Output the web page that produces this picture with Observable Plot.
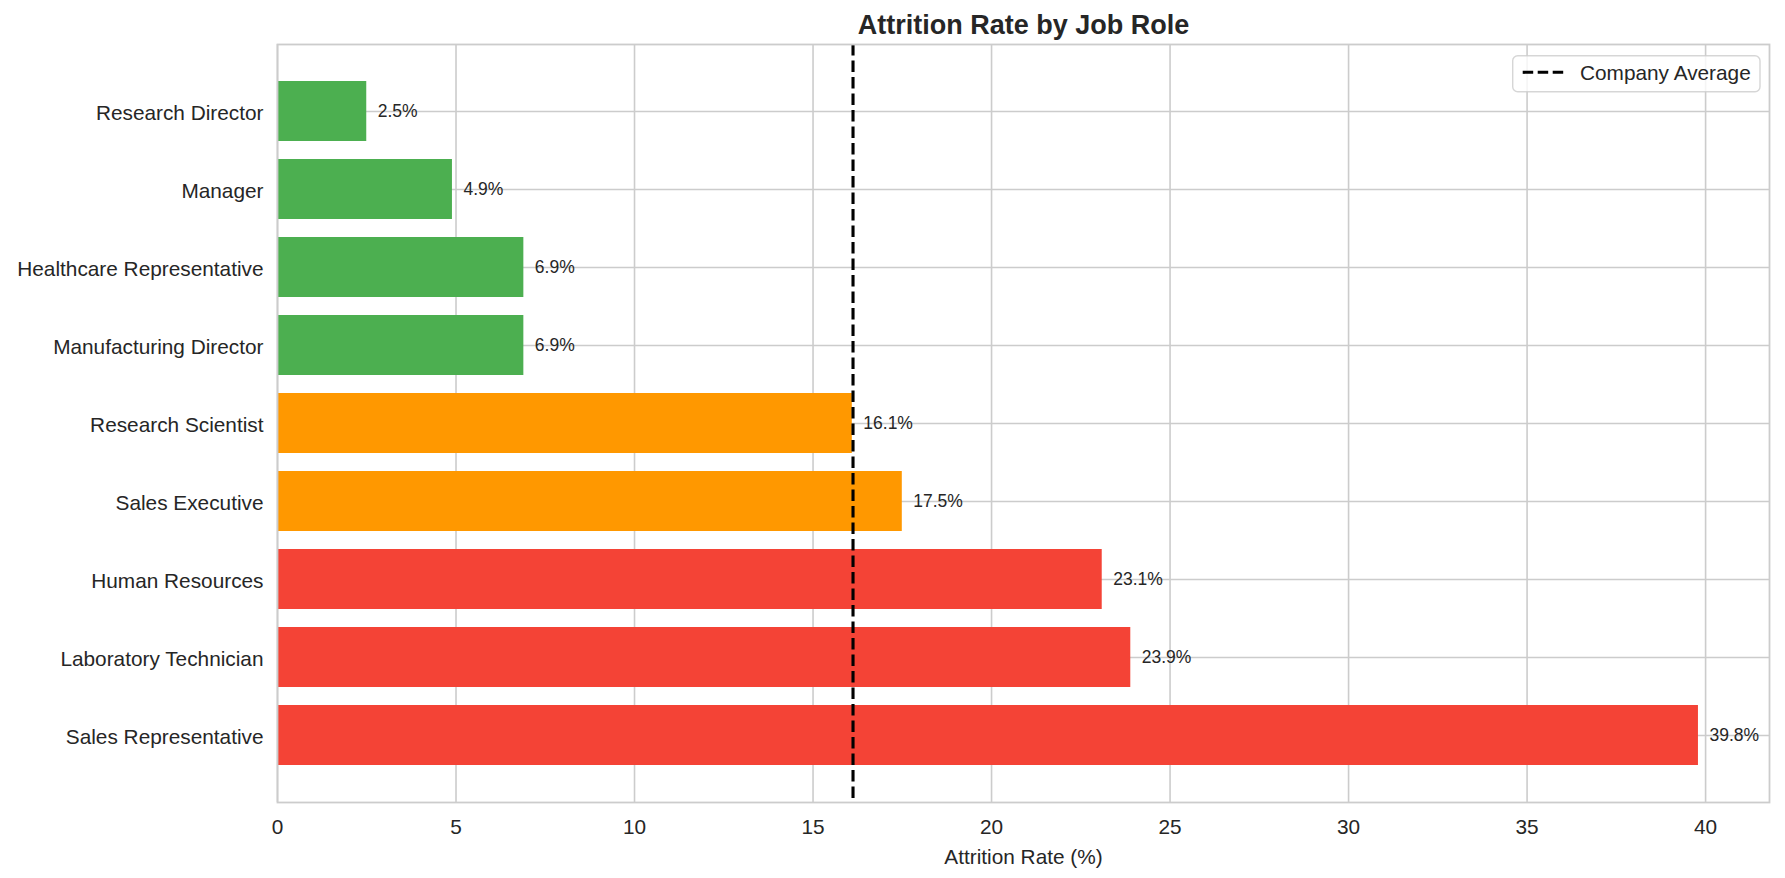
<!DOCTYPE html>
<html>
<head>
<meta charset="utf-8">
<script src="https://cdn.jsdelivr.net/npm/d3@7"></script>
<script src="https://cdn.jsdelivr.net/npm/@observablehq/plot@0.6"></script>
<style>
  html, body { margin: 0; padding: 0; background: #ffffff; }
  #chart { position: relative; width: 1785px; height: 878px; }
  #legend { position: absolute; left: 1511px; top: 54px; }
</style>
</head>
<body>
<div id="chart"></div>
<script>
// Attrition rate (%) per job role, listed top to bottom
const roles = [
  "Research Director",
  "Manager",
  "Healthcare Representative",
  "Manufacturing Director",
  "Research Scientist",
  "Sales Executive",
  "Human Resources",
  "Laboratory Technician",
  "Sales Representative"
];
const rates = [2.5, 4.9, 6.9, 6.9, 16.1, 17.5, 23.1, 23.9, 39.8];

// Overall company attrition rate (%)
const companyAverage = 16.12;

// Axis ticks and risk bands
const xTicks = [0, 5, 10, 15, 20, 25, 30, 35, 40];
const riskThresholds = [10, 20];
const riskColors = ["#4CAF50", "#FF9800", "#F44336"];

const titleText = "Attrition Rate by Job Role";
const xLabelText = "Attrition Rate (%)";
const legendText = "Company Average";

const data = roles.map((role, i) => ({role, rate: rates[i]}));
const fmt = d3.format(".1f");
const ink = "#262626";
const font = "'Liberation Sans', Arial, sans-serif";

const chart = Plot.plot({
  width: 1785,
  height: 878,
  marginLeft: 277,
  marginRight: 16,
  marginTop: 44,
  marginBottom: 76,
  style: {fontFamily: font, fontSize: "20.8px", color: ink, background: "#ffffff"},
  x: {domain: [0, d3.max(rates) * 1.05]},
  y: {type: "band", domain: roles, paddingInner: 0.235, paddingOuter: 0.46},
  color: {type: "threshold", domain: riskThresholds, range: riskColors},
  marks: [
    Plot.gridX(xTicks, {stroke: "#cccccc", strokeOpacity: 1, strokeWidth: 1.6}),
    Plot.gridY({stroke: "#cccccc", strokeOpacity: 1, strokeWidth: 1.6}),
    Plot.barX(data, {x: "rate", y: "role", fill: "rate"}),
    Plot.text(data, {
      x: "rate", y: "role",
      text: d => fmt(d.rate) + "%",
      textAnchor: "start", dx: 11,
      fontSize: 17.5, fill: ink
    }),
    Plot.ruleX([companyAverage], {stroke: "#000000", strokeWidth: 3.1, strokeDasharray: "11.5,5"}),
    Plot.frame({stroke: "#cccccc", strokeWidth: 1.8}),
    Plot.axisX(xTicks, {tickSize: 0, tickPadding: 16.5, label: null, fontSize: 20.8, fill: ink}),
    Plot.axisY({tickSize: 0, tickPadding: 14, label: null, fontSize: 20.8, fill: ink, dy: 2}),
    Plot.text([xLabelText], {
      frameAnchor: "bottom", lineAnchor: "bottom", dy: 61.5,
      fontSize: 20.8, fill: ink
    }),
    Plot.text([titleText], {
      frameAnchor: "top", lineAnchor: "bottom", dy: -11,
      fontSize: 27, fontWeight: "bold", fill: ink
    })
  ]
});

const host = document.getElementById("chart");
host.appendChild(chart);

// Legend box for the dashed average line
const legend = d3.create("svg")
  .attr("id", "legend")
  .attr("width", 251)
  .attr("height", 40);
legend.append("rect")
  .attr("x", 1.7).attr("y", 1.7)
  .attr("width", 247.3).attr("height", 36)
  .attr("rx", 5).attr("ry", 5)
  .attr("fill", "rgba(255,255,255,0.8)")
  .attr("stroke", "rgba(204,204,204,0.8)")
  .attr("stroke-width", 1.4);
legend.append("line")
  .attr("x1", 11.7).attr("x2", 52.3)
  .attr("y1", 18.3).attr("y2", 18.3)
  .attr("stroke", "#000000")
  .attr("stroke-width", 3.1)
  .attr("stroke-dasharray", "10.5,4.5");
legend.append("text")
  .attr("x", 69).attr("y", 25.5)
  .attr("font-family", font)
  .attr("font-size", 20.8)
  .attr("fill", ink)
  .text(legendText);
host.appendChild(legend.node());
</script>
</body>
</html>
